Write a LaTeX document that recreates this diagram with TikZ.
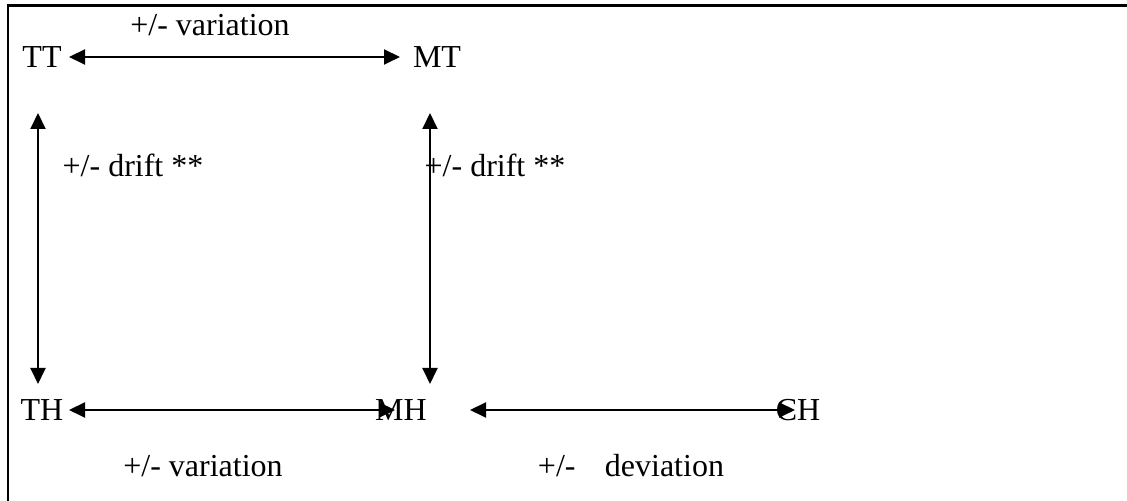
\documentclass[tikz,border=0pt]{standalone}
\usepackage{fontspec}
\setmainfont{Liberation Serif}
\usetikzlibrary{arrows.meta}
\begin{document}
\begin{tikzpicture}[x=0.375pt,y=-0.375pt,
  lbl/.style={inner sep=0pt,font=\fontsize{12}{14}\selectfont},
  link/.style={line width=0.85pt,{Triangle[length=6pt,width=5.6pt]}-{Triangle[length=6pt,width=5.6pt]}}]
\useasboundingbox (0,0) rectangle (1127,501);
\draw[line width=1.1pt] (8,501) -- (8,5.5) -- (1127,5.5);
% labels
\node[lbl] (var1) at (210,25) {+/- variation};
\node[lbl] (TT) at (42,57) {TT};
\node[lbl] (MT) at (437,57) {MT};
\node[lbl] (drift1) at (133,165) {+/- drift **};
\node[lbl] (drift2) at (495,165) {+/- drift **};
\node[lbl] (TH) at (42,410) {TH};
\node[lbl] (MH) at (401,410) {MH};
\node[lbl] (CH) at (798,410) {CH};
\node[lbl] (var2) at (203,466) {+/- variation};
\node[lbl] (dev) at (631,466) {+/-\hspace{11pt}deviation};
% arrow ends
\coordinate (a1) at (69,57);   \coordinate (a2) at (400,57);
\coordinate (b1) at (38,113);  \coordinate (b2) at (38,384);
\coordinate (c1) at (430,113); \coordinate (c2) at (430,384);
\coordinate (d1) at (69,410);  \coordinate (d2) at (395,410);
\coordinate (e1) at (470,410); \coordinate (e2) at (795,410);
\draw[link] (a1) -- (a2);
\draw[link] (b1) -- (b2);
\draw[link] (c1) -- (c2);
\draw[link] (d1) -- (d2);
\draw[link] (e1) -- (e2);
\end{tikzpicture}
\end{document}
